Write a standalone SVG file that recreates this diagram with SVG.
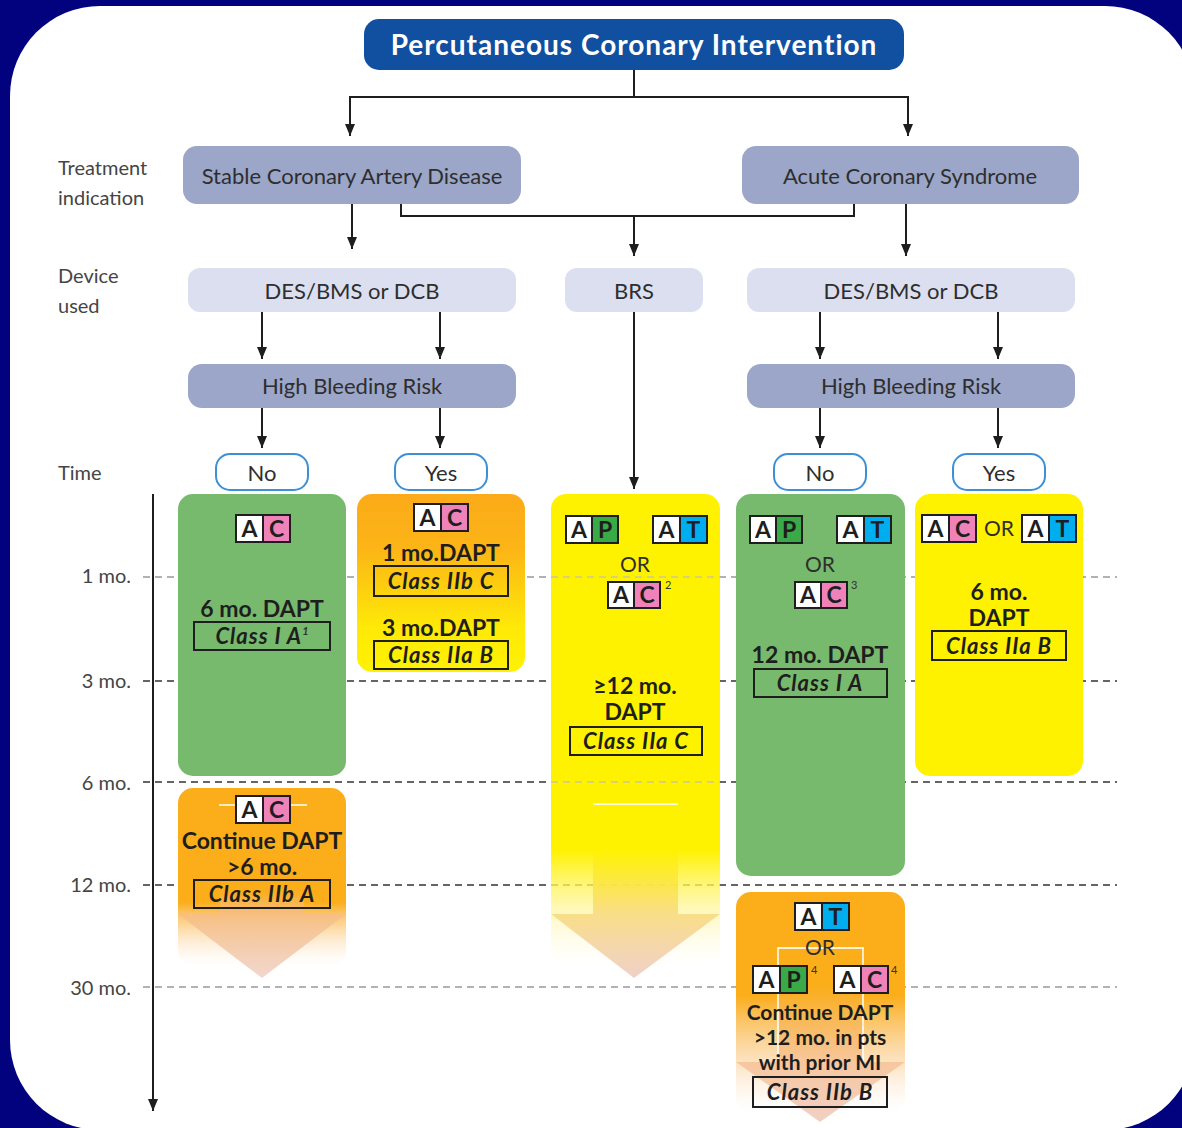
<svg xmlns="http://www.w3.org/2000/svg" width="1182" height="1128" viewBox="0 0 1182 1128">
<defs>
<style>
text{font-family:Lato,"Open Sans","Liberation Sans",sans-serif}
.lbl{font-size:20px;fill:#454545}
.tick{font-size:20px;fill:#454545;text-anchor:end}
.node{font-size:22px;fill:#2e2e2e;text-anchor:middle}
.title{font-size:28px;font-weight:bold;fill:#fff;text-anchor:middle;letter-spacing:1px}
.b{font-size:23px;font-weight:bold;fill:#1e1e1e;text-anchor:middle}
.bs{font-size:21px;font-weight:bold;fill:#1e1e1e;text-anchor:middle}
.cls{font-size:22px;font-weight:bold;font-style:italic;fill:#1e1e1e;text-anchor:middle;letter-spacing:1px}
.or{font-size:21px;fill:#2e2e2e;text-anchor:middle}
.sup{font-size:11px;fill:#333;letter-spacing:0}
.bl{font-size:23px;font-weight:bold;fill:#1e1e1e;text-anchor:middle}
.cell{stroke:#1e1e1e;stroke-width:2}
.cbox{fill:none;stroke:#1e1e1e;stroke-width:2}
.conn{fill:none;stroke:#1e1e1e;stroke-width:2}
.dash{stroke:#333;stroke-width:1.6;stroke-dasharray:7 5}
.dashl{stroke:#999;stroke-width:1.6;stroke-dasharray:7 5}
.ind{fill:#9ba6c9}
.dev{fill:#dcdff0}
.pill{fill:#fff;stroke:#3b90d8;stroke-width:2}
.wl{stroke:#fff;stroke-width:1.8;fill:none;opacity:0.85}
</style>
<marker id="ah" markerUnits="userSpaceOnUse" markerWidth="12" markerHeight="10" viewBox="0 0 12 10" refX="12" refY="5" orient="auto">
<path d="M0,0 L12,5 L0,10 Z" fill="#1e1e1e"/>
</marker>
<linearGradient id="gOY" gradientUnits="userSpaceOnUse" x1="0" y1="494" x2="0" y2="672">
<stop offset="0" stop-color="#fbab19"/><stop offset="0.3" stop-color="#fcb416"/><stop offset="0.75" stop-color="#fee908"/><stop offset="1" stop-color="#fff200"/>
</linearGradient>
<linearGradient id="g3o" gradientUnits="userSpaceOnUse" x1="0" y1="494" x2="0" y2="966">
<stop offset="0" stop-color="#fff200"/><stop offset="0.754" stop-color="#fff200"/><stop offset="0.89" stop-color="#fff59a" stop-opacity="0.6"/><stop offset="1" stop-color="#fffbe0" stop-opacity="0"/>
</linearGradient>
<linearGradient id="g3a" gradientUnits="userSpaceOnUse" x1="0" y1="850" x2="0" y2="978">
<stop offset="0" stop-color="#fff200"/><stop offset="0.5" stop-color="#f8db82"/><stop offset="1" stop-color="#eecbc2"/>
</linearGradient>
<linearGradient id="g6o" gradientUnits="userSpaceOnUse" x1="0" y1="788" x2="0" y2="966">
<stop offset="0" stop-color="#fbad1a"/><stop offset="0.64" stop-color="#fbad1a"/><stop offset="0.82" stop-color="#fbc77a" stop-opacity="0.5"/><stop offset="1" stop-color="#fde6d0" stop-opacity="0"/>
</linearGradient>
<linearGradient id="g6a" gradientUnits="userSpaceOnUse" x1="0" y1="890" x2="0" y2="978">
<stop offset="0" stop-color="#fbad1a"/><stop offset="0.28" stop-color="#f6bf85"/><stop offset="1" stop-color="#f0d2c8"/>
</linearGradient>
<linearGradient id="g7o" gradientUnits="userSpaceOnUse" x1="0" y1="892" x2="0" y2="1112">
<stop offset="0" stop-color="#fbad1a"/><stop offset="0.47" stop-color="#fbad1a"/><stop offset="0.78" stop-color="#fbc886" stop-opacity="0.5"/><stop offset="1" stop-color="#fde6d0" stop-opacity="0"/>
</linearGradient>
<linearGradient id="g7a" gradientUnits="userSpaceOnUse" x1="0" y1="985" x2="0" y2="1122">
<stop offset="0" stop-color="#fbad1a"/><stop offset="0.56" stop-color="#f6c49a"/><stop offset="1" stop-color="#f0cabd"/>
</linearGradient>
</defs>

<rect x="0" y="0" width="1182" height="1128" fill="#02027e"/>
<rect x="10" y="6" width="1185" height="1124" rx="90" ry="90" fill="#fff"/>

<g id="axis">
<text class="lbl" x="58" y="175">Treatment</text>
<text class="lbl" x="58" y="205">indication</text>
<text class="lbl" x="58" y="283">Device</text>
<text class="lbl" x="58" y="313">used</text>
<text class="lbl" x="58" y="480">Time</text>
<text class="tick" x="131" y="583">1 mo.</text>
<text class="tick" x="131" y="688">3 mo.</text>
<text class="tick" x="131" y="790">6 mo.</text>
<text class="tick" x="131" y="892">12 mo.</text>
<text class="tick" x="131" y="995">30 mo.</text>
<line class="dashl" x1="143" y1="577" x2="1117" y2="577"/>
<line class="dash" x1="143" y1="681" x2="1117" y2="681"/>
<line class="dash" x1="143" y1="782" x2="1117" y2="782"/>
<line class="dash" x1="143" y1="885" x2="1117" y2="885"/>
<line class="dashl" x1="143" y1="987" x2="1117" y2="987"/>
<line class="conn" x1="153" y1="494" x2="153" y2="1111" marker-end="url(#ah)"/>
</g>

<g id="connectors">
<path class="conn" d="M634,70 V97 M350,97 H908"/>
<line class="conn" x1="350" y1="96" x2="350" y2="136" marker-end="url(#ah)"/>
<line class="conn" x1="908" y1="96" x2="908" y2="136" marker-end="url(#ah)"/>
<line class="conn" x1="352" y1="204" x2="352" y2="249" marker-end="url(#ah)"/>
<line class="conn" x1="906" y1="204" x2="906" y2="256" marker-end="url(#ah)"/>
<path class="conn" d="M401,204 V216 H854 V204"/>
<line class="conn" x1="634" y1="215" x2="634" y2="256" marker-end="url(#ah)"/>
<line class="conn" x1="262" y1="312" x2="262" y2="359" marker-end="url(#ah)"/>
<line class="conn" x1="440" y1="312" x2="440" y2="359" marker-end="url(#ah)"/>
<line class="conn" x1="820" y1="312" x2="820" y2="359" marker-end="url(#ah)"/>
<line class="conn" x1="998" y1="312" x2="998" y2="359" marker-end="url(#ah)"/>
<line class="conn" x1="262" y1="408" x2="262" y2="448" marker-end="url(#ah)"/>
<line class="conn" x1="440" y1="408" x2="440" y2="448" marker-end="url(#ah)"/>
<line class="conn" x1="820" y1="408" x2="820" y2="448" marker-end="url(#ah)"/>
<line class="conn" x1="998" y1="408" x2="998" y2="448" marker-end="url(#ah)"/>
<line class="conn" x1="634" y1="312" x2="634" y2="489" marker-end="url(#ah)"/>
</g>

<g id="title">
<rect x="364" y="19" width="540" height="51" rx="15" fill="#1150a0"/>
<text class="title" x="634" y="55">Percutaneous Coronary Intervention</text>
</g>

<g id="scad"><rect class="ind" x="183" y="146" width="338" height="58" rx="14"/><text class="node" x="352" y="184">Stable Coronary Artery Disease</text></g>
<g id="acs"><rect class="ind" x="742" y="146" width="337" height="58" rx="14"/><text class="node" x="910" y="184">Acute Coronary Syndrome</text></g>

<g id="dev-left"><rect class="dev" x="188" y="268" width="328" height="44" rx="12"/><text class="node" x="352" y="299">DES/BMS or DCB</text></g>
<g id="dev-brs"><rect class="dev" x="565" y="268" width="138" height="44" rx="12"/><text class="node" x="634" y="299">BRS</text></g>
<g id="dev-right"><rect class="dev" x="747" y="268" width="328" height="44" rx="12"/><text class="node" x="911" y="299">DES/BMS or DCB</text></g>

<g id="hbr-left"><rect class="ind" x="188" y="364" width="328" height="44" rx="14"/><text class="node" x="352" y="394">High Bleeding Risk</text></g>
<g id="hbr-right"><rect class="ind" x="747" y="364" width="328" height="44" rx="14"/><text class="node" x="911" y="394">High Bleeding Risk</text></g>

<g id="pill-no-l"><rect class="pill" x="216" y="454" width="92" height="36" rx="14"/><text class="node" x="262" y="481">No</text></g>
<g id="pill-yes-l"><rect class="pill" x="395" y="454" width="92" height="36" rx="14"/><text class="node" x="441" y="481">Yes</text></g>
<g id="pill-no-r"><rect class="pill" x="774" y="454" width="92" height="36" rx="14"/><text class="node" x="820" y="481">No</text></g>
<g id="pill-yes-r"><rect class="pill" x="953" y="454" width="92" height="36" rx="14"/><text class="node" x="999" y="481">Yes</text></g>

<!-- Box 1 -->
<g id="box-scad-no">
<rect x="178" y="494" width="168" height="282" rx="15" fill="#77ba6d"/>
<rect class="cell" x="236" y="515" width="27" height="27" fill="#fff"/><rect class="cell" x="263" y="515" width="27" height="27" fill="#ef82b9"/>
<text class="bl" x="249.5" y="537">A</text><text class="bl" x="276.5" y="537">C</text>
<text class="b" x="262" y="617">6 mo. DAPT</text>
<rect class="cbox" x="194" y="622" width="136" height="28"/>
<text class="cls" x="262" y="644">Class I A<tspan class="sup" dy="-9">1</tspan></text>
</g>

<!-- Box 2 -->
<g id="box-scad-yes">
<rect x="357" y="494" width="168" height="178" rx="15" fill="url(#gOY)"/>
<rect class="cell" x="414" y="504" width="27" height="27" fill="#fff"/><rect class="cell" x="441" y="504" width="27" height="27" fill="#ef82b9"/>
<text class="bl" x="427.5" y="526">A</text><text class="bl" x="454.5" y="526">C</text>
<text class="b" x="441" y="561">1 mo.DAPT</text>
<rect class="cbox" x="374" y="566" width="134" height="30"/>
<text class="cls" x="441" y="589">Class IIb C</text>
<text class="b" x="441" y="636">3 mo.DAPT</text>
<rect class="cbox" x="374" y="641" width="134" height="28"/>
<text class="cls" x="441" y="663">Class IIa B</text>
</g>

<!-- Box 3 BRS -->
<g id="box-brs">
<rect x="551" y="494" width="169" height="472" rx="15" fill="url(#g3o)"/>
<path d="M593,850 H678 V914 H720 L634,978 L551,914 H593 Z" fill="url(#g3a)" opacity="0.9"/>
<line x1="551" y1="577" x2="720" y2="577" stroke="#c8c8a0" stroke-width="1.4" stroke-dasharray="7 5"/>
<line x1="551" y1="782" x2="720" y2="782" stroke="#c8c8a0" stroke-width="1.4" stroke-dasharray="7 5"/>
<line class="wl" x1="593" y1="804" x2="678" y2="804"/>
<rect class="cell" x="566" y="516" width="26" height="27" fill="#fff"/><rect class="cell" x="592" y="516" width="26" height="27" fill="#3aaa48"/>
<text class="bl" x="579" y="538">A</text><text class="bl" x="605" y="538">P</text>
<rect class="cell" x="653" y="516" width="27" height="27" fill="#fff"/><rect class="cell" x="680" y="516" width="27" height="27" fill="#00aeef"/>
<text class="bl" x="666.5" y="538">A</text><text class="bl" x="693.5" y="538">T</text>
<text class="or" x="635" y="572">OR</text>
<rect class="cell" x="608" y="582" width="26" height="26" fill="#fff"/><rect class="cell" x="634" y="582" width="26" height="26" fill="#ef82b9"/>
<text class="bl" x="621" y="603">A</text><text class="bl" x="647" y="603">C</text>
<text class="sup" x="665" y="589">2</text>
<text class="b" x="635" y="694">≥12 mo.</text>
<text class="b" x="635" y="720">DAPT</text>
<rect class="cbox" x="570" y="727" width="132" height="28"/>
<text class="cls" x="636" y="749">Class IIa C</text>
</g>

<!-- Box 4 -->
<g id="box-acs-no">
<rect x="736" y="494" width="169" height="382" rx="15" fill="#77ba6d"/>
<rect class="cell" x="750" y="516" width="26" height="27" fill="#fff"/><rect class="cell" x="776" y="516" width="26" height="27" fill="#3aaa48"/>
<text class="bl" x="763" y="538">A</text><text class="bl" x="789" y="538">P</text>
<rect class="cell" x="837" y="516" width="27" height="27" fill="#fff"/><rect class="cell" x="864" y="516" width="27" height="27" fill="#00aeef"/>
<text class="bl" x="850.5" y="538">A</text><text class="bl" x="877.5" y="538">T</text>
<text class="or" x="820" y="572">OR</text>
<rect class="cell" x="795" y="582" width="26" height="26" fill="#fff"/><rect class="cell" x="821" y="582" width="26" height="26" fill="#ef82b9"/>
<text class="bl" x="808" y="603">A</text><text class="bl" x="834" y="603">C</text>
<text class="sup" x="851" y="589">3</text>
<text class="b" x="820" y="663">12 mo. DAPT</text>
<rect class="cbox" x="754" y="669" width="133" height="28"/>
<text class="cls" x="820" y="691">Class I A</text>
</g>

<!-- Box 5 -->
<g id="box-acs-yes">
<rect x="915" y="494" width="168" height="282" rx="15" fill="#fff200"/>
<rect class="cell" x="922" y="515" width="27" height="27" fill="#fff"/><rect class="cell" x="949" y="515" width="27" height="27" fill="#ef82b9"/>
<text class="bl" x="935.5" y="537">A</text><text class="bl" x="962.5" y="537">C</text>
<text class="or" x="999" y="536">OR</text>
<rect class="cell" x="1022" y="515" width="27" height="27" fill="#fff"/><rect class="cell" x="1049" y="515" width="27" height="27" fill="#00aeef"/>
<text class="bl" x="1035.5" y="537">A</text><text class="bl" x="1062.5" y="537">T</text>
<text class="b" x="999" y="600">6 mo.</text>
<text class="b" x="999" y="626">DAPT</text>
<rect class="cbox" x="932" y="631" width="134" height="29"/>
<text class="cls" x="999" y="654">Class IIa B</text>
</g>

<!-- Box 6 -->
<g id="box-scad-cont">
<rect x="178" y="788" width="168" height="178" rx="15" fill="url(#g6o)"/>
<path d="M220,890 H304 V914 H346 L262,978 L178,914 H220 Z" fill="url(#g6a)" opacity="0.9"/>
<line class="wl" x1="219" y1="805" x2="236" y2="805"/><line class="wl" x1="290" y1="805" x2="307" y2="805"/>
<rect class="cell" x="236" y="796" width="27" height="27" fill="#fff"/><rect class="cell" x="263" y="796" width="27" height="27" fill="#ef82b9"/>
<text class="bl" x="249.5" y="818">A</text><text class="bl" x="276.5" y="818">C</text>
<text class="b" x="262" y="849">Continue DAPT</text>
<text class="b" x="262" y="875">&gt;6 mo.</text>
<rect class="cbox" x="194" y="880" width="136" height="28"/>
<text class="cls" x="262" y="902">Class IIb A</text>
</g>

<!-- Box 7 -->
<g id="box-acs-cont">
<rect x="736" y="892" width="169" height="220" rx="15" fill="url(#g7o)"/>
<path d="M778,985 H863 V1062 H905 L820,1122 L736,1062 H778 Z" fill="url(#g7a)" opacity="0.9"/>
<path class="wl" d="M778,1062 V948 H863 V1062"/>
<rect class="cell" x="795" y="903" width="27" height="27" fill="#fff"/><rect class="cell" x="822" y="903" width="27" height="27" fill="#00aeef"/>
<text class="bl" x="808.5" y="925">A</text><text class="bl" x="835.5" y="925">T</text>
<text class="or" x="820" y="955">OR</text>
<rect class="cell" x="753" y="966" width="27" height="27" fill="#fff"/><rect class="cell" x="780" y="966" width="27" height="27" fill="#3aaa48"/>
<text class="bl" x="766.5" y="988">A</text><text class="bl" x="793.5" y="988">P</text>
<text class="sup" x="811" y="974">4</text>
<rect class="cell" x="834" y="966" width="27" height="27" fill="#fff"/><rect class="cell" x="861" y="966" width="27" height="27" fill="#ef82b9"/>
<text class="bl" x="847.5" y="988">A</text><text class="bl" x="874.5" y="988">C</text>
<text class="sup" x="891" y="974">4</text>
<text class="bs" x="820" y="1020">Continue DAPT</text>
<text class="bs" x="820" y="1045">&gt;12 mo. in pts</text>
<text class="bs" x="820" y="1070">with prior MI</text>
<rect class="cbox" x="753" y="1077" width="134" height="30"/>
<text class="cls" x="820" y="1100">Class IIb B</text>
</g>
</svg>
